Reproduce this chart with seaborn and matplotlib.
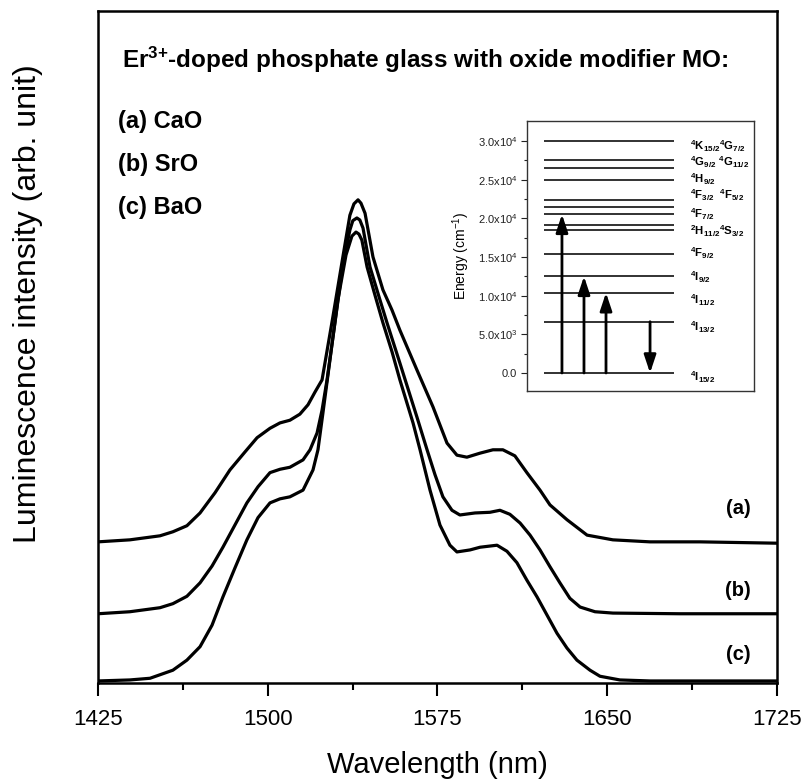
import numpy as np
import pandas as pd
import matplotlib
matplotlib.use("Agg")
import matplotlib.pyplot as plt
import seaborn as sns

# spectra: wavelength (nm) and intensity (arb. unit)
wl_a = [1425, 1439.1, 1452.4, 1458.1, 1464.3, 1470.1, 1476.7, 1483.3, 1490.0, 1495.3,
        1501.0, 1505.4, 1509.8, 1514.2, 1517.8, 1520.9, 1524.0, 1528.8, 1533.2, 1536.3,
        1538.1, 1539.9, 1541.2, 1543.0, 1546.5, 1550.9, 1554.9, 1558.4, 1565.9, 1573.0,
        1579.2, 1583.6, 1588.0, 1593.8, 1599.5, 1603.9, 1609.2, 1614.5, 1620.3, 1624.7,
        1632.2, 1641.1, 1652.5, 1668.9, 1691.0, 1725.0]
int_a = [21.0, 21.3, 21.9, 22.5, 23.4, 25.3, 28.3, 31.7, 34.4, 36.5,
         37.9, 38.7, 39.1, 40.0, 41.4, 43.3, 45.1, 54.5, 63.4, 69.6,
         71.3, 71.9, 71.4, 69.9, 63.4, 58.5, 55.5, 52.5, 46.6, 41.1,
         35.7, 33.9, 33.6, 34.2, 34.7, 34.7, 33.8, 31.3, 28.7, 26.5,
         24.3, 22.0, 21.3, 21.0, 21.0, 20.8]

wl_b = [1425, 1439.1, 1452.4, 1458.1, 1464.3, 1470.1, 1475.4, 1480.2, 1485.5, 1490.8,
        1495.7, 1501.0, 1505.4, 1509.8, 1515.6, 1518.7, 1521.8, 1524.0, 1526.2, 1529.7,
        1533.2, 1536.3, 1537.6, 1539.4, 1540.7, 1542.1, 1545.2, 1549.6, 1552.7, 1558.4,
        1565.9, 1570.4, 1573.9, 1577.4, 1581.4, 1584.9, 1591.6, 1598.2, 1602.6, 1607.0,
        1611.5, 1615.9, 1620.3, 1624.7, 1629.1, 1633.5, 1638.0, 1644.6, 1652.5, 1682.1,
        1725.0]
int_b = [10.3, 10.6, 11.2, 11.8, 12.9, 14.9, 17.4, 20.2, 23.5, 26.8,
         29.2, 31.3, 31.8, 32.1, 33.2, 34.7, 37.2, 40.6, 45.1, 53.6,
         62.2, 67.4, 68.8, 69.2, 68.9, 67.7, 61.9, 57.0, 53.6, 47.6,
         39.6, 34.7, 31.0, 27.7, 25.7, 25.0, 25.3, 25.4, 25.7, 25.1,
         23.8, 22.0, 19.8, 17.3, 14.9, 12.6, 11.3, 10.6, 10.4, 10.3,
         10.3]

wl_c = [1425, 1439.1, 1448.0, 1458.1, 1464.3, 1470.1, 1475.4, 1480.2, 1485.5, 1490.8,
        1495.7, 1501.0, 1505.4, 1509.8, 1515.6, 1520.0, 1522.2, 1524.4, 1527.5, 1531.0,
        1534.6, 1537.2, 1539.0, 1540.3, 1541.6, 1543.9, 1547.4, 1550.9, 1554.9, 1558.4,
        1564.2, 1567.3, 1571.7, 1576.1, 1580.5, 1583.6, 1589.4, 1593.8, 1601.3, 1605.7,
        1610.1, 1614.5, 1619.0, 1623.4, 1627.8, 1632.2, 1636.6, 1642.4, 1646.8, 1655.6,
        1668.9, 1725.0]
int_c = [0.3, 0.45, 0.7, 1.9, 3.4, 5.4, 8.6, 12.8, 17.1, 21.3,
         24.6, 26.8, 27.4, 27.7, 28.7, 31.7, 34.7, 40.2, 48.1, 57.0,
         63.7, 66.5, 67.1, 66.8, 65.9, 61.9, 57.7, 53.6, 49.3, 45.1,
         38.7, 34.7, 28.7, 23.5, 20.5, 19.5, 19.8, 20.2, 20.5, 19.6,
         17.9, 15.3, 12.8, 10.1, 7.4, 5.2, 3.4, 1.9, 1.0, 0.45,
         0.3, 0.3]

series_names = ["(a)", "(b)", "(c)"]
sample_names = ["(a) CaO", "(b) SrO", "(c) BaO"]

# Er3+ energy levels (cm-1) for the inset
levels = [0, 6630, 10380, 12500, 15390, 18530, 19170, 20520, 21460, 22330,
          24900, 26550, 27500, 30000]
level_labels = [r"{}^4K_{15/2}{}^4G_{7/2}", r"{}^4G_{9/2}\ {}^4G_{11/2}", r"{}^4H_{9/2}",
                r"{}^4F_{3/2}\ \ {}^4F_{5/2}", r"{}^4F_{7/2}", r"{}^2H_{11/2}{}^4S_{3/2}",
                r"{}^4F_{9/2}", r"{}^4I_{9/2}", r"{}^4I_{11/2}", r"{}^4I_{13/2}", r"{}^4I_{15/2}"]
label_energy = [29300, 27250, 25000, 23000, 20550, 18350, 15500, 12400, 9450, 5950, -500]
# transitions: (x position, start energy, end energy)
arrow_x = [0.154, 0.251, 0.348, 0.542]
arrow_from = [0, 0, 0, 6630]
arrow_to = [20520, 12500, 10380, 0]

sns.set_theme(style="white")
plt.rcParams["font.family"] = ["Liberation Sans", "DejaVu Sans"]
plt.rcParams["mathtext.fontset"] = "custom"
plt.rcParams["mathtext.rm"] = "Liberation Sans"
plt.rcParams["mathtext.bf"] = "Liberation Sans:bold"
plt.rcParams["mathtext.it"] = "Liberation Sans:italic"
plt.rcParams["text.color"] = "black"
plt.rcParams["axes.labelcolor"] = "black"

df = pd.concat([
    pd.DataFrame({"wl": w, "I": i, "sample": s})
    for w, i, s in zip([wl_a, wl_b, wl_c], [int_a, int_b, int_c], series_names)
])

fig = plt.figure(figsize=(8.03, 7.80), dpi=100)
ax = fig.add_axes([0.122, 0.1244, 0.8456, 0.8615])
sns.lineplot(data=df, x="wl", y="I", hue="sample", units="sample", estimator=None,
             palette=["black"] * 3, linewidth=2.3, legend=False, sort=False, ax=ax)

ax.set_xlim(1425, 1725)
ax.set_ylim(0, 100)
ax.set_xticks([1425, 1500, 1575, 1650, 1725])
ax.set_xticks([1462.5, 1537.5, 1612.5, 1687.5], minor=True)
ax.set_yticks([])
ax.tick_params(axis="x", which="both", bottom=True, direction="out", width=1.5, colors="black")
ax.tick_params(axis="x", which="major", length=9, labelsize=16, pad=10)
ax.tick_params(axis="x", which="minor", length=5)
for sp in ax.spines.values():
    sp.set_color("black")
    sp.set_linewidth(1.8)
ax.set_xlabel("Wavelength (nm)", fontsize=21, labelpad=15)
ax.set_ylabel("Luminescence intensity (arb. unit)", fontsize=23)
ax.yaxis.set_label_coords(-0.081, 0.564)

ax.text(0.035, 0.927, r"Er$^{\mathbf{3{+}}}$-doped phosphate glass with oxide modifier MO:",
        transform=ax.transAxes, fontsize=17.5, fontweight="bold", va="center")
for k, name in enumerate(sample_names):
    ax.text(0.029, 0.835 - k * 0.0635, name, transform=ax.transAxes, fontsize=17,
            fontweight="bold", va="center")

label_y = [25.9, 13.8, 4.2]
for name, yy in zip(series_names, label_y):
    ax.text(1707.8, yy, name, fontsize=14.5, fontweight="bold", ha="center", va="center")

# inset: energy level diagram
ins = fig.add_axes([0.6563, 0.4987, 0.2827, 0.3462])
ins.set_facecolor("white")
ins.hlines(levels, 0.075, 0.648, color="#222222", lw=1.3)
for xx, y0, y1 in zip(arrow_x, arrow_from, arrow_to):
    ins.annotate("", xy=(xx, y1), xytext=(xx, y0),
                 arrowprops=dict(arrowstyle="-|>,head_length=0.9,head_width=0.3",
                                 color="black", lw=2.0, shrinkA=0, shrinkB=0))
for lab, e in zip(level_labels, label_energy):
    ins.text(0.72, e, r"$\mathbf{" + lab + "}$", fontsize=8.2, va="center", ha="left")
ins.set_xlim(0, 1)
ins.set_ylim(-2330, 32590)
ins.set_xticks([])
ins.set_yticks([0, 5000, 10000, 15000, 20000, 25000, 30000])
ins.set_yticks([2500, 7500, 12500, 17500, 22500, 27500], minor=True)
ins.set_yticklabels(["0.0", r"5.0x10$^3$", r"1.0x10$^4$", r"1.5x10$^4$",
                     r"2.0x10$^4$", r"2.5x10$^4$", r"3.0x10$^4$"])
ins.tick_params(axis="y", which="both", left=True, direction="out", width=0.8,
                colors="#222222", labelsize=8)
ins.tick_params(axis="y", which="major", length=4, pad=3)
ins.tick_params(axis="y", which="minor", length=2.5)
for sp in ins.spines.values():
    sp.set_color("#333333")
    sp.set_linewidth(1.0)
ins.set_ylabel(r"Energy (cm$^{-1}$)", fontsize=10, labelpad=4)

fig.savefig("out.png", dpi=100, facecolor="white")
